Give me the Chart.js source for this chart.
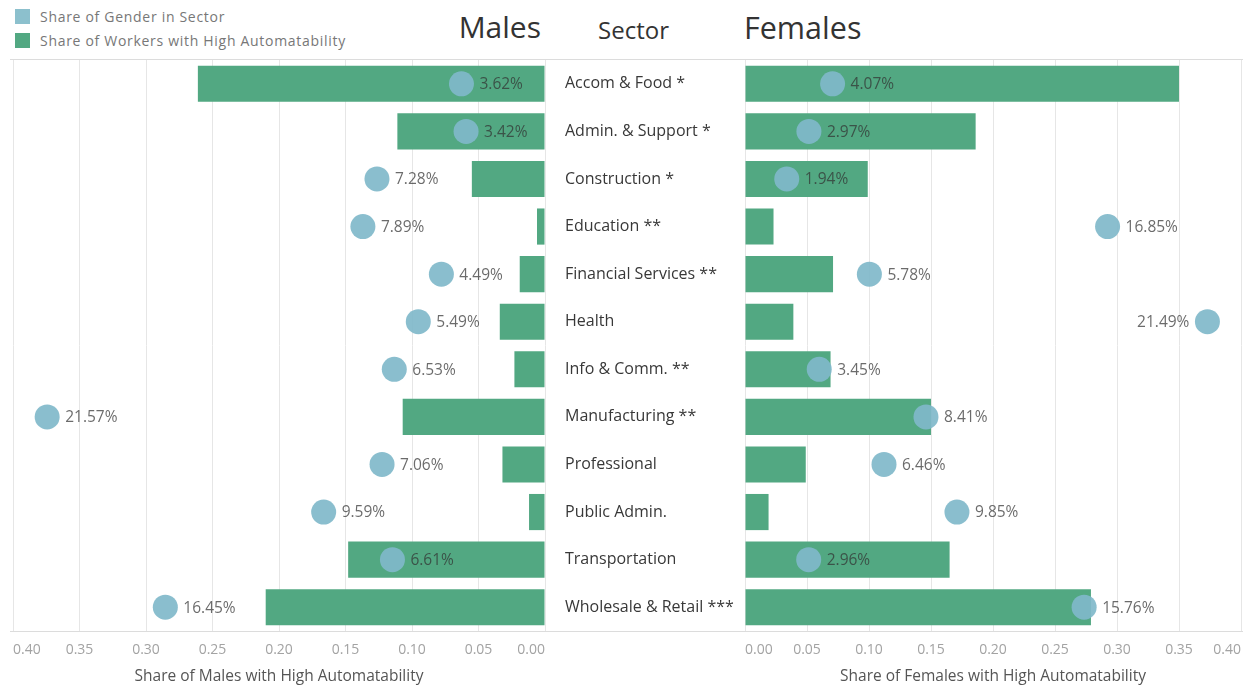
<!DOCTYPE html>
<html>
<head>
<meta charset="utf-8">
<script src="https://cdn.jsdelivr.net/npm/chart.js@4.4.1/dist/chart.umd.min.js"></script>
<style>
  body { margin: 0; background: #fff; font-family: "Open Sans", sans-serif; }
  #wrap { position: relative; width: 1243px; height: 686px; overflow: hidden; }
  canvas { position: absolute; top: 0; }
  .hline { position: absolute; left: 10px; width: 1233px; height: 1px; background: #dcdcdc; }
  .head { position: absolute; color: #333; white-space: nowrap; }
  .leg { position: absolute; left: 15px; font-size: 14px; letter-spacing: 0.7px; color: #777; white-space: nowrap; }
  .leg span { display: inline-block; width: 15px; height: 15px; vertical-align: -2px; margin-right: 10px; }
</style>
</head>
<body>
<div id="wrap">
  <div class="hline" style="top:59px"></div>
  <div class="hline" style="top:631px"></div>

  <div class="leg" style="top:7px"><span style="background:#8cc0cd"></span>Share of Gender in Sector</div>
  <div class="leg" style="top:31px"><span style="background:#52a882"></span>Share of Workers with High Automatability</div>

  <div class="head" style="right:702px; top:6px; font-size:30px;">Males</div>
  <div class="head" style="left:598px; top:13px; font-size:24px;">Sector</div>
  <div class="head" style="left:744px; top:6px; font-size:30.5px;">Females</div>

  <canvas id="malesChart" width="548" height="686" style="left:0"></canvas>
  <canvas id="femalesChart" width="695" height="686" style="left:548px"></canvas>
</div>

<script>
const sectors = [
  "Accom & Food *", "Admin. & Support *", "Construction *", "Education **",
  "Financial Services **", "Health", "Info & Comm. **", "Manufacturing **",
  "Professional", "Public Admin.", "Transportation", "Wholesale & Retail ***"
];

// share of workers with high automatability
const maleAuto   = [0.261, 0.111, 0.055, 0.006, 0.019, 0.034, 0.023, 0.107, 0.032, 0.012, 0.148, 0.210];
const femaleAuto = [0.350, 0.186, 0.099, 0.023, 0.071, 0.039, 0.069, 0.150, 0.049, 0.019, 0.165, 0.279];

// share of gender in sector (%)
const maleShare   = [3.62, 3.42, 7.28, 7.89, 4.49, 5.49, 6.53, 21.57, 7.06, 9.59, 6.61, 16.45];
const femaleShare = [4.07, 2.97, 1.94, 16.85, 5.78, 21.49, 3.45, 8.41, 6.46, 9.85, 2.96, 15.76];

const barColor = "#52a882";
const dotColor = "rgba(128,185,202,0.92)";
const shareMax = 23.05;
const FONT = "'Open Sans', sans-serif";

/* ---------- labels next to the circles ---------- */
const shareLabels = {
  id: "shareLabels",
  afterDatasetsDraw(chart, args, opts) {
    const meta = chart.getDatasetMeta(0);
    const ctx = chart.ctx;
    ctx.save();
    ctx.font = "15.5px " + FONT;
    ctx.textBaseline = "middle";
    ctx.fillStyle = "rgba(50,50,50,0.72)";
    meta.data.forEach((pt, i) => {
      const txt = chart.data.datasets[0].data[i].toFixed(2) + "%";
      if ((opts.leftIdx || []).includes(i)) {
        ctx.textAlign = "right";
        ctx.fillText(txt, pt.x - 18, pt.y + 1);
      } else {
        ctx.textAlign = "left";
        ctx.fillText(txt, pt.x + 18, pt.y + 1);
      }
    });
    ctx.restore();
  }
};

/* ---------- x tick labels, end labels pulled inside ---------- */
// ticks come in drawing order (a reversed scale reverses them too)
const innerTicks = {
  id: "innerTicks",
  afterDraw(chart) {
    const sc = chart.scales.x;
    const last = sc.ticks.length - 1;
    const ctx = chart.ctx;
    ctx.save();
    ctx.font = "14px " + FONT;
    ctx.fillStyle = "#a3a3a3";
    ctx.textBaseline = "middle";
    sc.ticks.forEach((t, i) => {
      const x = sc.getPixelForValue(t.value);
      const left = Math.min(sc.getPixelForValue(sc.min), sc.getPixelForValue(sc.max));
      const right = Math.max(sc.getPixelForValue(sc.min), sc.getPixelForValue(sc.max));
      if (Math.abs(x - left) < 1) ctx.textAlign = "left";
      else if (Math.abs(x - right) < 1) ctx.textAlign = "right";
      else ctx.textAlign = "center";
      ctx.fillText(Number(t.value).toFixed(2), x, sc.top + 19);
    });
    ctx.restore();
  }
};

function makeChart(id, autoData, shareData, isMale) {
  const axisTitle = isMale
    ? "Share of Males with High Automatability"
    : "Share of Females with High Automatability";

  return new Chart(document.getElementById(id), {
    type: "bar",
    data: {
      labels: sectors,
      datasets: [
        {
          type: "line",
          indexAxis: "y",
          label: "Share of Gender in Sector",
          data: shareData,
          xAxisID: "x2",
          yAxisID: "y",
          showLine: false,
          pointRadius: 12.5,
          pointHoverRadius: 12.5,
          pointBorderWidth: 0,
          backgroundColor: dotColor,
          borderColor: dotColor,
          order: 0
        },
        {
          label: "Share of Workers with High Automatability",
          data: autoData,
          xAxisID: "x",
          yAxisID: "y",
          backgroundColor: barColor,
          barPercentage: 0.76,
          categoryPercentage: 1,
          order: 1
        }
      ]
    },
    options: {
      responsive: false,
      animation: false,
      indexAxis: "y",
      layout: {
        autoPadding: false,
        padding: isMale
          ? { left: 13, right: 3, top: 60, bottom: 0 }
          : { left: 17, right: 2, top: 60, bottom: 0 }
      },
      plugins: {
        legend: { display: false },
        tooltip: { enabled: false },
        shareLabels: { leftIdx: isMale ? [] : [5] }
      },
      scales: {
        x: {
          position: "bottom",
          reverse: isMale,
          min: 0,
          max: 0.40,
          afterFit(scale) { scale.height = 55; },
          grid: { color: "#e6e6e6", drawTicks: false },
          border: { display: false },
          ticks: { stepSize: 0.05, display: false },
          title: {
            display: true,
            text: axisTitle,
            color: "#555",
            padding: { top: 0, bottom: 0 },
            font: { size: 15.5, family: FONT }
          }
        },
        x2: {
          position: "top",
          reverse: isMale,
          min: 0,
          max: shareMax,
          afterFit(scale) { scale.height = 0; },
          grid: { display: false, drawTicks: false },
          border: { display: false },
          ticks: { display: false }
        },
        y: {
          display: !isMale,
          afterFit(scale) { scale.width = isMale ? 0 : 180; },
          grid: { display: false, drawTicks: false },
          border: { display: false },
          ticks: {
            crossAlign: "far",
            padding: 0,
            color: "#383838",
            font: { size: 16, family: FONT }
          }
        }
      }
    },
    plugins: [shareLabels, innerTicks]
  });
}

makeChart("malesChart", maleAuto, maleShare, true);
makeChart("femalesChart", femaleAuto, femaleShare, false);
</script>
</body>
</html>
